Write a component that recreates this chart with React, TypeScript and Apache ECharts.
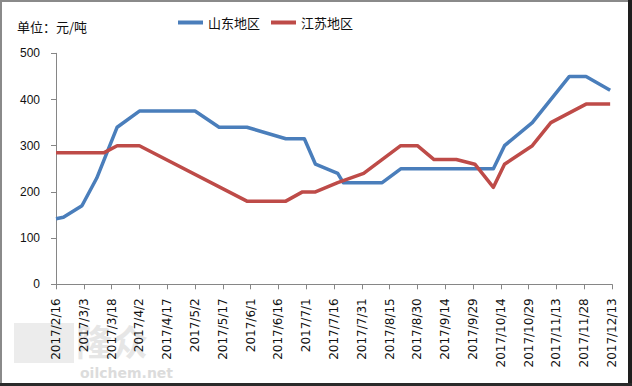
import React, { useEffect, useRef } from "react";
import * as echarts from "echarts";

const unitLabel = "单位：元/吨";
const seriesNames = ["山东地区", "江苏地区"];
const baseDate = "2017/2/16";
const axisDays = 300;
const tickStepDays = 15;
const yTicks = [0, 100, 200, 300, 400, 500];

const shandongDates = [
  "2017/2/16", "2017/2/20", "2017/3/2", "2017/3/10", "2017/3/21", "2017/4/2",
  "2017/5/2", "2017/5/15", "2017/5/30", "2017/6/20", "2017/6/30", "2017/7/6",
  "2017/7/18", "2017/7/21", "2017/8/11", "2017/8/21", "2017/10/10", "2017/10/16",
  "2017/10/31", "2017/11/20", "2017/11/29", "2017/12/12",
];
const shandongValues = [
  142, 145, 170, 230, 340, 375,
  375, 340, 340, 315, 315, 260,
  240, 220, 220, 250, 250, 300,
  350, 450, 450, 420,
];

const jiangsuDates = [
  "2017/2/16", "2017/3/14", "2017/3/21", "2017/4/2", "2017/5/30", "2017/6/20",
  "2017/6/29", "2017/7/6", "2017/7/18", "2017/8/1", "2017/8/21", "2017/8/30",
  "2017/9/8", "2017/9/20", "2017/9/30", "2017/10/10", "2017/10/16", "2017/10/31",
  "2017/11/10", "2017/11/29", "2017/12/12",
];
const jiangsuValues = [
  285, 285, 300, 300, 180, 180,
  200, 200, 220, 240, 300, 300,
  270, 270, 260, 210, 260, 300,
  350, 390, 390,
];

const DAY = 86400000;
function toUTC(s: string) {
  const [y, m, d] = s.split("/").map(Number);
  return Date.UTC(y, m - 1, d);
}
const baseMs = toUTC(baseDate);
function dayOffset(s: string) {
  return Math.round((toUTC(s) - baseMs) / DAY);
}
function offsetLabel(v: number) {
  const dt = new Date(baseMs + v * DAY);
  return `${dt.getUTCFullYear()}/${dt.getUTCMonth() + 1}/${dt.getUTCDate()}`;
}

export default function App() {
  const ref = useRef<HTMLDivElement>(null);
  useEffect(() => {
    document.body.style.margin = "0";
    const chart = echarts.init(ref.current!, undefined, { renderer: "svg" });
    const cjk = "'Noto Sans CJK SC', 'Liberation Sans', sans-serif";
    chart.setOption({
      animation: false,
      backgroundColor: "#ffffff",
      title: {
        text: unitLabel,
        left: 12,
        top: 15,
        textStyle: { fontSize: 13, fontWeight: "normal", color: "#111", fontFamily: cjk },
      },
      legend: {
        left: 173,
        top: 11,
        icon: "rect",
        itemWidth: 25,
        itemHeight: 4,
        itemGap: 11,
        textStyle: { fontSize: 13, color: "#111", fontFamily: cjk },
        data: seriesNames,
      },
      grid: { left: 56, right: 20, top: 53.3, bottom: 101.7, containLabel: false },
      xAxis: {
        type: "value",
        min: 0,
        max: axisDays,
        interval: tickStepDays,
        splitLine: { show: false },
        axisLine: { show: true, lineStyle: { color: "#868686", width: 1 } },
        axisTick: { show: true, length: 5, lineStyle: { color: "#868686" } },
        axisLabel: {
          rotate: 90,
          margin: 14,
          fontSize: 12,
          color: "#111",
          fontFamily: "'DejaVu Sans', sans-serif",
          formatter: (v: number) => offsetLabel(v),
          showMinLabel: true,
          showMaxLabel: true,
        },
      },
      yAxis: {
        type: "value",
        min: yTicks[0],
        max: yTicks[yTicks.length - 1],
        interval: yTicks[1] - yTicks[0],
        splitLine: { show: false },
        axisLine: { show: true, lineStyle: { color: "#868686", width: 1 } },
        axisTick: { show: true, length: 5, lineStyle: { color: "#868686" } },
        axisLabel: {
          margin: 16,
          fontSize: 12,
          color: "#111",
          fontFamily: "'Liberation Sans', sans-serif",
        },
      },
      graphic: [
        {
          type: "text",
          left: 76,
          top: 322,
          z: -1,
          style: { text: "隆众", fontSize: 36, fontWeight: "bold", fill: "#e6e6e6", fontFamily: cjk },
        },
        {
          type: "rect",
          left: 14,
          top: 323,
          z: -1,
          shape: { width: 60, height: 40 },
          style: { fill: "#ececec" },
        },
        {
          type: "text",
          left: 80,
          top: 366,
          z: -1,
          style: { text: "oilchem.net", fontSize: 14, fontWeight: "bold", fill: "#dcdcdc", fontFamily: "'DejaVu Sans', sans-serif" },
        },
        { type: "rect", left: 0, top: 0, shape: { width: 632, height: 2 }, style: { fill: "#8a8a8a" } },
        { type: "rect", left: 0, top: 0, shape: { width: 2, height: 386 }, style: { fill: "#8a8a8a" } },
        { type: "rect", left: 628, top: 0, shape: { width: 4, height: 386 }, style: { fill: "#1e1e1e" } },
        { type: "rect", left: 0, top: 383, shape: { width: 632, height: 3 }, style: { fill: "#2a2a2a" } },
      ],
      series: [
        {
          name: seriesNames[0],
          type: "line",
          symbol: "none",
          color: "#4A7EBB",
          lineStyle: { width: 3.5, color: "#4A7EBB", join: "round" },
          data: shandongDates.map((d, i) => [dayOffset(d), shandongValues[i]]),
        },
        {
          name: seriesNames[1],
          type: "line",
          symbol: "none",
          color: "#BE4B48",
          lineStyle: { width: 3.5, color: "#BE4B48", join: "round" },
          data: jiangsuDates.map((d, i) => [dayOffset(d), jiangsuValues[i]]),
        },
      ],
    });
    return () => chart.dispose();
  }, []);
  return (
    <div
      ref={ref}
      style={{ position: "absolute", left: 0, top: 0, width: 632, height: 386 }}
    />
  );
}
